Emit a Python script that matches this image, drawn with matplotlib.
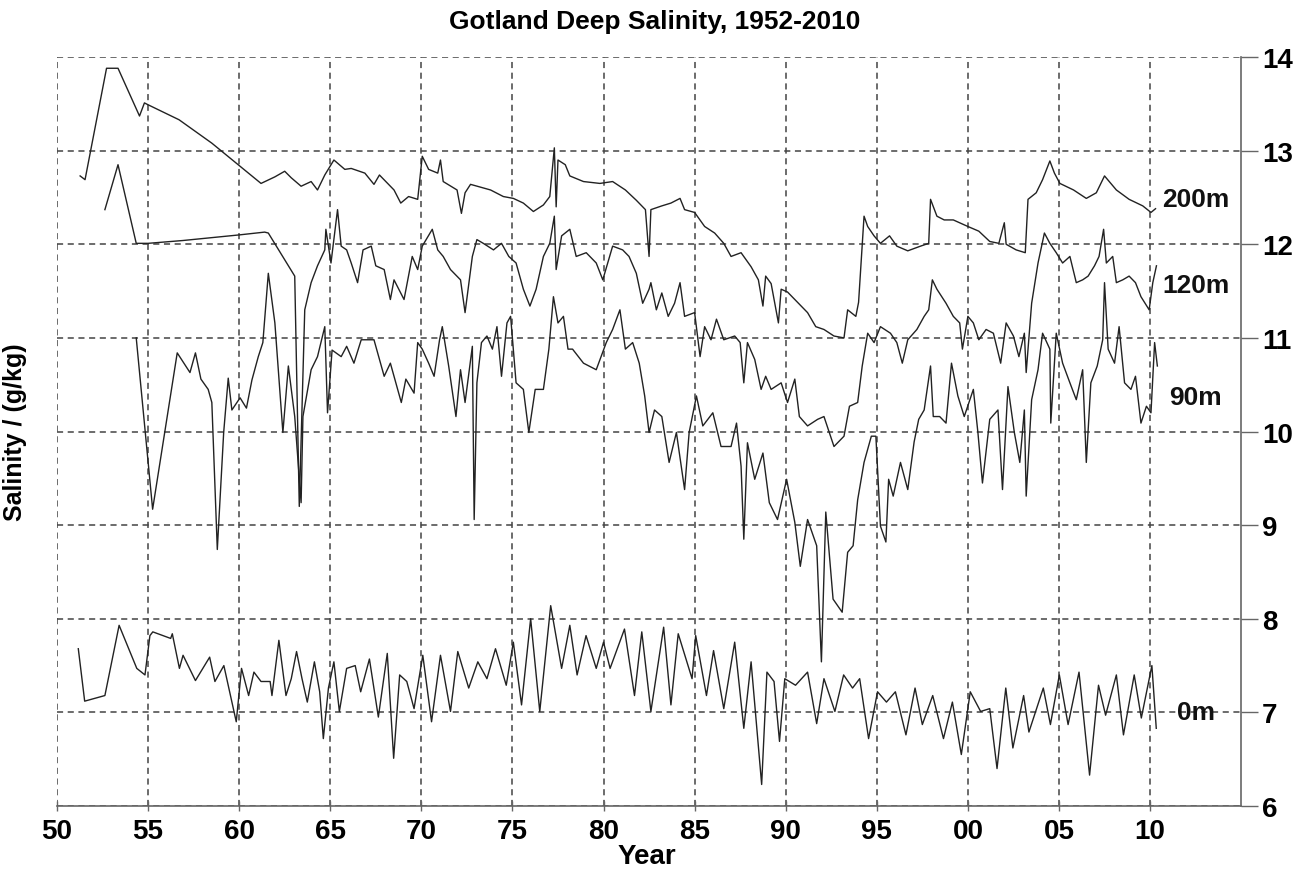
import numpy as np
import matplotlib.pyplot as plt

plt.rcParams['font.family'] = ['Liberation Sans', 'DejaVu Sans']
plt.rcParams['font.weight'] = 'bold'

# ---- data (decimal year, salinity g/kg) ----
yr_200 = [1951.27, 1951.54, 1952.72, 1953.35, 1954.53, 1954.8, 1955.0, 1956.7, 1958.5, 1961.2,
          1961.96, 1962.5, 1962.86, 1963.4, 1963.95, 1964.3, 1964.7, 1965.2, 1965.8, 1966.15,
          1966.9, 1967.4, 1967.7, 1968.5, 1968.87, 1969.3, 1969.8, 1970.05, 1970.4, 1970.9,
          1971.05, 1971.2, 1971.96, 1972.2, 1972.4, 1972.7, 1973.8, 1974.5, 1975.05, 1975.6,
          1976.15, 1976.7, 1977.05, 1977.3, 1977.4, 1977.5, 1977.9, 1978.15, 1978.9, 1979.8,
          1980.5, 1981.2, 1981.8, 1982.3, 1982.5, 1982.6, 1983.2, 1983.7, 1984.2, 1984.45,
          1985.0, 1985.55, 1986.1, 1986.6, 1987.0, 1987.55, 1988.1, 1988.5, 1988.75, 1988.9,
          1989.2, 1989.6, 1989.75, 1990.1, 1990.65, 1991.2, 1991.65, 1992.1, 1992.65, 1993.2,
          1993.4, 1993.85, 1994.0, 1994.3, 1994.5, 1994.85, 1995.2, 1995.7, 1996.1, 1996.7,
          1997.4, 1997.85, 1997.95, 1998.3, 1998.7, 1999.2, 2000.0, 2000.6, 2001.2, 2001.7,
          2002.0, 2002.1, 2002.65, 2003.15, 2003.3, 2003.75, 2004.1, 2004.5, 2004.75, 2005.05,
          2005.8, 2006.5, 2007.05, 2007.5, 2008.15, 2008.85, 2009.6, 2010.05, 2010.3]
sal_200 = [12.73, 12.69, 13.88, 13.88, 13.37, 13.51, 13.49, 13.33, 13.08, 12.65,
           12.72, 12.78, 12.71, 12.62, 12.67, 12.58, 12.74, 12.9, 12.8, 12.81,
           12.76, 12.64, 12.74, 12.58, 12.44, 12.51, 12.48, 12.94, 12.8, 12.76,
           12.9, 12.67, 12.58, 12.33, 12.55, 12.64, 12.58, 12.51, 12.49, 12.44,
           12.35, 12.42, 12.51, 13.03, 12.40, 12.9, 12.85, 12.73, 12.67, 12.65,
           12.67, 12.58, 12.47, 12.37, 11.87, 12.37, 12.41, 12.44, 12.49, 12.37,
           12.34, 12.19, 12.12, 12.01, 11.87, 11.91, 11.76, 11.62, 11.34, 11.66,
           11.58, 11.16, 11.52, 11.49, 11.38, 11.27, 11.12, 11.09, 11.02, 11.0,
           11.30, 11.23, 11.38, 12.3, 12.19, 12.09, 12.01, 12.09, 11.98, 11.93,
           11.98, 12.01, 12.48, 12.3, 12.26, 12.26, 12.19, 12.14, 12.03, 12.01,
           12.23, 12.0, 11.94, 11.91, 12.48, 12.55, 12.69, 12.89, 12.76, 12.65,
           12.58, 12.49, 12.55, 12.73, 12.58, 12.48, 12.41, 12.34, 12.38]

yr_120 = [1952.63, 1953.35, 1954.35, 1955.0, 1956.9, 1960.0, 1961.4, 1961.6, 1963.05, 1963.3,
          1963.6, 1963.95, 1964.3, 1964.7, 1964.76, 1965.04, 1965.4, 1965.6, 1965.9, 1966.15,
          1966.5, 1966.8, 1967.25, 1967.5, 1967.96, 1968.3, 1968.5, 1969.05, 1969.5, 1969.8,
          1970.05, 1970.6, 1970.9, 1971.2, 1971.6, 1972.15, 1972.4, 1972.8, 1973.05, 1973.4,
          1973.96, 1974.4, 1974.8, 1975.2, 1975.6, 1975.96, 1976.3, 1976.7, 1977.05, 1977.3,
          1977.4, 1977.7, 1978.15, 1978.5, 1979.05, 1979.6, 1979.96, 1980.5, 1981.05, 1981.4,
          1981.8, 1982.15, 1982.5, 1982.6, 1982.9, 1983.2, 1983.55, 1983.9, 1984.2, 1984.45,
          1985.0, 1985.3, 1985.55, 1985.9, 1986.2, 1986.6, 1987.2, 1987.5, 1987.7, 1987.9,
          1988.3, 1988.65, 1988.9, 1989.2, 1989.75, 1990.1, 1990.5, 1990.75, 1991.2, 1991.75,
          1992.1, 1992.65, 1993.2, 1993.5, 1993.95, 1994.2, 1994.5, 1994.85, 1995.2, 1995.75,
          1996.1, 1996.4, 1996.7, 1997.2, 1997.6, 1997.85, 1998.05, 1998.3, 1998.8, 1999.2,
          1999.55, 1999.7, 2000.0, 2000.3, 2000.6, 2001.0, 2001.4, 2001.8, 2002.1, 2002.5,
          2002.8, 2003.1, 2003.2, 2003.5, 2003.85, 2004.2, 2004.5, 2004.85, 2005.2, 2005.6,
          2005.95, 2006.3, 2006.6, 2006.95, 2007.2, 2007.45, 2007.6, 2007.95, 2008.15, 2008.5,
          2008.85, 2009.2, 2009.5, 2009.95, 2010.15, 2010.35]
sal_120 = [12.37, 12.85, 12.01, 12.01, 12.04, 12.10, 12.13, 12.12, 11.66, 9.2,
           11.3, 11.59, 11.77, 11.94, 12.16, 11.8, 12.37, 11.98, 11.94, 11.8,
           11.59, 11.94, 11.98, 11.77, 11.73, 11.41, 11.62, 11.41, 11.87, 11.73,
           11.98, 12.16, 11.94, 11.87, 11.73, 11.62, 11.27, 11.87, 12.05, 12.01,
           11.94, 12.01, 11.87, 11.8, 11.52, 11.34, 11.52, 11.87, 12.01, 12.3,
           11.73, 12.09, 12.16, 11.87, 11.91, 11.8, 11.62, 11.98, 11.94, 11.87,
           11.69, 11.37, 11.52, 11.59, 11.3, 11.48, 11.23, 11.37, 11.59, 11.23,
           11.27, 10.8, 11.12, 10.98, 11.2, 10.98, 11.02, 10.95, 10.52, 10.95,
           10.77, 10.45, 10.59, 10.45, 10.52, 10.31, 10.56, 10.16, 10.06, 10.13,
           10.16, 9.84, 9.95, 10.27, 10.31, 10.7, 11.05, 10.95, 11.12, 11.05,
           10.95, 10.73, 10.98, 11.09, 11.23, 11.3, 11.62, 11.52, 11.37, 11.23,
           11.16, 10.88, 11.23, 11.16, 10.98, 11.09, 11.05, 10.73, 11.16, 11.02,
           10.8, 11.05, 10.63, 11.37, 11.8, 12.12, 12.01, 11.91, 11.8, 11.87,
           11.59, 11.62, 11.66, 11.77, 11.87, 12.16, 11.8, 11.87, 11.59, 11.62,
           11.66, 11.59, 11.44, 11.3, 11.59, 11.77]

yr_90 = [1954.35, 1955.25, 1956.6, 1957.3, 1957.6, 1957.9, 1958.3, 1958.5, 1958.8, 1959.15,
         1959.4, 1959.6, 1960.05, 1960.4, 1960.7, 1961.05, 1961.3, 1961.6, 1961.96, 1962.4,
         1962.7, 1963.05, 1963.4, 1963.5, 1963.95, 1964.3, 1964.7, 1964.85, 1965.1, 1965.6,
         1965.9, 1966.3, 1966.7, 1967.05, 1967.4, 1967.96, 1968.3, 1968.9, 1969.15, 1969.6,
         1969.8, 1970.05, 1970.4, 1970.7, 1971.0, 1971.15, 1971.5, 1971.9, 1972.15, 1972.4,
         1972.8, 1972.9, 1973.05, 1973.3, 1973.6, 1973.9, 1974.15, 1974.4, 1974.7, 1974.9,
         1975.2, 1975.6, 1975.9, 1976.25, 1976.7, 1977.0, 1977.25, 1977.5, 1977.8, 1978.05,
         1978.3, 1978.9, 1979.6, 1980.15, 1980.5, 1980.9, 1981.2, 1981.6, 1981.96, 1982.26,
         1982.5, 1982.8, 1983.2, 1983.6, 1984.0, 1984.45, 1984.7, 1985.1, 1985.45, 1986.0,
         1986.45, 1987.0, 1987.3, 1987.55, 1987.7, 1987.9, 1988.3, 1988.75, 1989.1, 1989.55,
         1990.05, 1990.5, 1990.8, 1991.2, 1991.7, 1991.96, 1992.2, 1992.6, 1993.1, 1993.4,
         1993.7, 1993.95, 1994.3, 1994.7, 1994.95, 1995.2, 1995.5, 1995.65, 1995.9, 1996.3,
         1996.7, 1997.05, 1997.3, 1997.6, 1997.95, 1998.1, 1998.45, 1998.8, 1999.1, 1999.45,
         1999.8, 2000.3, 2000.55, 2000.8, 2001.2, 2001.65, 2001.9, 2002.2, 2002.55, 2002.85,
         2003.1, 2003.2, 2003.5, 2003.85, 2004.1, 2004.5, 2004.55, 2004.85, 2005.2, 2005.6,
         2005.95, 2006.3, 2006.5, 2006.75, 2007.1, 2007.4, 2007.5, 2007.7, 2008.05, 2008.3,
         2008.6, 2008.95, 2009.2, 2009.5, 2009.8, 2010.05, 2010.25, 2010.4]
sal_90 = [11.0, 9.17, 10.84, 10.63, 10.84, 10.56, 10.45, 10.31, 8.74, 9.99,
          10.57, 10.23, 10.36, 10.25, 10.55, 10.80, 10.95, 11.69, 11.16, 9.99,
          10.7, 10.16, 9.24, 10.16, 10.66, 10.80, 11.12, 10.2, 10.87, 10.8,
          10.91, 10.73, 10.98, 10.98, 10.98, 10.59, 10.73, 10.31, 10.56, 10.41,
          10.95, 10.88, 10.73, 10.59, 10.98, 11.12, 10.7, 10.16, 10.66, 10.31,
          10.91, 9.06, 10.52, 10.95, 11.02, 10.88, 11.12, 10.59, 11.16, 11.23,
          10.52, 10.45, 9.99, 10.45, 10.45, 10.88, 11.44, 11.16, 11.23, 10.88,
          10.88, 10.73, 10.66, 10.95, 11.09, 11.3, 10.88, 10.95, 10.73, 10.38,
          9.99, 10.23, 10.16, 9.67, 9.99, 9.38, 9.99, 10.38, 10.06, 10.2,
          9.84, 9.84, 10.09, 9.63, 8.85, 9.88, 9.49, 9.77, 9.24, 9.06,
          9.49, 9.03, 8.56, 9.06, 8.78, 7.54, 9.14, 8.21, 8.07, 8.71,
          8.78, 9.27, 9.67, 9.95, 9.95, 8.99, 8.82, 9.49, 9.31, 9.67,
          9.38, 9.89, 10.13, 10.23, 10.7, 10.16, 10.16, 10.09, 10.73, 10.38,
          10.16, 10.45, 9.99, 9.45, 10.13, 10.23, 9.38, 10.48, 9.99, 9.67,
          10.23, 9.31, 10.34, 10.66, 11.05, 10.88, 10.09, 11.05, 10.73, 10.52,
          10.34, 10.66, 9.67, 10.52, 10.70, 10.98, 11.59, 10.88, 10.73, 11.12,
          10.52, 10.45, 10.59, 10.09, 10.27, 10.2, 10.95, 10.70]

yr_0 = [1951.17, 1951.52, 1952.63, 1953.41, 1954.38, 1954.83, 1955.1, 1955.26, 1956.24, 1956.33,
        1956.72, 1956.92, 1957.6, 1958.38, 1958.67, 1959.16, 1959.84, 1960.13, 1960.52, 1960.81,
        1961.2, 1961.7, 1961.8, 1962.18, 1962.57, 1962.86, 1963.15, 1963.45, 1963.74, 1964.13,
        1964.42, 1964.62, 1964.9, 1965.2, 1965.5, 1965.9, 1966.37, 1966.67, 1967.15, 1967.64,
        1968.13, 1968.48, 1968.81, 1969.2, 1969.6, 1970.08, 1970.56, 1971.05, 1971.6, 1972.0,
        1972.6, 1973.1, 1973.6, 1974.07, 1974.66, 1975.05, 1975.5, 1976.0, 1976.5, 1977.1,
        1977.7, 1978.15, 1978.55, 1979.04, 1979.6, 1980.0, 1980.36, 1981.15, 1981.7, 1982.1,
        1982.6, 1983.3, 1983.7, 1984.1, 1984.86, 1985.06, 1985.65, 1986.04, 1986.6, 1987.2,
        1987.7, 1988.1, 1988.68, 1988.97, 1989.36, 1989.66, 1989.95, 1990.54, 1991.2, 1991.7,
        1992.1, 1992.7, 1993.18, 1993.67, 1994.06, 1994.55, 1995.04, 1995.53, 1996.02, 1996.6,
        1997.1, 1997.5, 1998.07, 1998.66, 1999.15, 1999.64, 2000.13, 2000.7, 2001.2, 2001.6,
        2002.08, 2002.47, 2003.06, 2003.35, 2004.14, 2004.53, 2005.02, 2005.5, 2006.1, 2006.68,
        2007.17, 2007.56, 2008.15, 2008.54, 2009.13, 2009.52, 2010.1, 2010.34]
sal_0 = [7.68, 7.12, 7.18, 7.93, 7.47, 7.40, 7.82, 7.86, 7.79, 7.84,
         7.47, 7.61, 7.34, 7.59, 7.33, 7.50, 6.9, 7.47, 7.18, 7.43,
         7.33, 7.33, 7.18, 7.77, 7.18, 7.36, 7.65, 7.36, 7.11, 7.54,
         7.22, 6.72, 7.26, 7.54, 7.01, 7.47, 7.50, 7.22, 7.57, 6.95,
         7.63, 6.51, 7.40, 7.33, 7.04, 7.61, 6.9, 7.61, 7.01, 7.65,
         7.26, 7.54, 7.36, 7.68, 7.29, 7.75, 7.08, 8.0, 7.01, 8.14,
         7.47, 7.93, 7.40, 7.82, 7.47, 7.75, 7.47, 7.89, 7.18, 7.86,
         7.01, 7.91, 7.08, 7.84, 7.36, 7.82, 7.18, 7.66, 7.04, 7.75,
         6.83, 7.54, 6.23, 7.43, 7.33, 6.69, 7.36, 7.29, 7.43, 6.88,
         7.36, 7.01, 7.40, 7.26, 7.36, 6.72, 7.22, 7.11, 7.22, 6.76,
         7.26, 6.87, 7.18, 6.72, 7.11, 6.55, 7.22, 7.01, 7.04, 6.4,
         7.26, 6.62, 7.18, 6.79, 7.26, 6.87, 7.40, 6.87, 7.43, 6.33,
         7.29, 6.97, 7.40, 6.76, 7.40, 6.94, 7.50, 6.83]

series = [(yr_200, sal_200, '200m', 12.48),
          (yr_120, sal_120, '120m', 11.57),
          (yr_90, sal_90, '90m', 10.37),
          (yr_0, sal_0, '0m', 7.0)]

xticks = list(range(1950, 2011, 5))
xticklabels = ['%02d' % (y % 100) for y in xticks]
yticks = list(range(6, 15))

fig = plt.figure(figsize=(13.01, 8.70), dpi=100)
ax = fig.add_axes([0.0438, 0.0724, 0.9102, 0.8609])

for yr, sal, name, ylab in series:
    ax.plot(yr, sal, color='#222222', lw=1.0)
    ax.text(2012.5, ylab, name, ha='center', va='center', fontsize=19, fontweight='bold',
            color='#111111')

ax.set_xlim(1950, 2015)
ax.set_ylim(6, 14)
ax.set_xticks(xticks)
ax.set_xticklabels(xticklabels)
ax.set_yticks(yticks)

ax.grid(True, color='#444444', linestyle=(0, (4, 3)), linewidth=1.1)

for s in ['left', 'top']:
    ax.spines[s].set_visible(False)
for s in ['right', 'bottom']:
    ax.spines[s].set_color('#666666')
    ax.spines[s].set_linewidth(1.2)

ax.yaxis.tick_right()
ax.tick_params(axis='y', direction='out', length=12, width=1.0, color='#666666',
               labelsize=20, pad=3)
ax.tick_params(axis='x', direction='inout', length=7, width=1.0, color='#666666',
               labelsize=20, pad=5)
for lab in ax.get_xticklabels() + ax.get_yticklabels():
    lab.set_fontweight('bold')

ax.set_ylabel('Salinity / (g/kg)', fontsize=18, fontweight='bold')
ax.yaxis.set_label_position('left')
ax.yaxis.set_label_coords(-0.025, 0.5)

# x label sits just below the tick labels
fig.text(647 / 1301, 1 - 857 / 870, 'Year', ha='center', va='center',
         fontsize=20, fontweight='bold')
fig.text(655 / 1301, 1 - 22 / 870, 'Gotland Deep Salinity, 1952-2010', ha='center',
         va='center', fontsize=19, fontweight='bold')

fig.savefig('out.png', dpi=100)
